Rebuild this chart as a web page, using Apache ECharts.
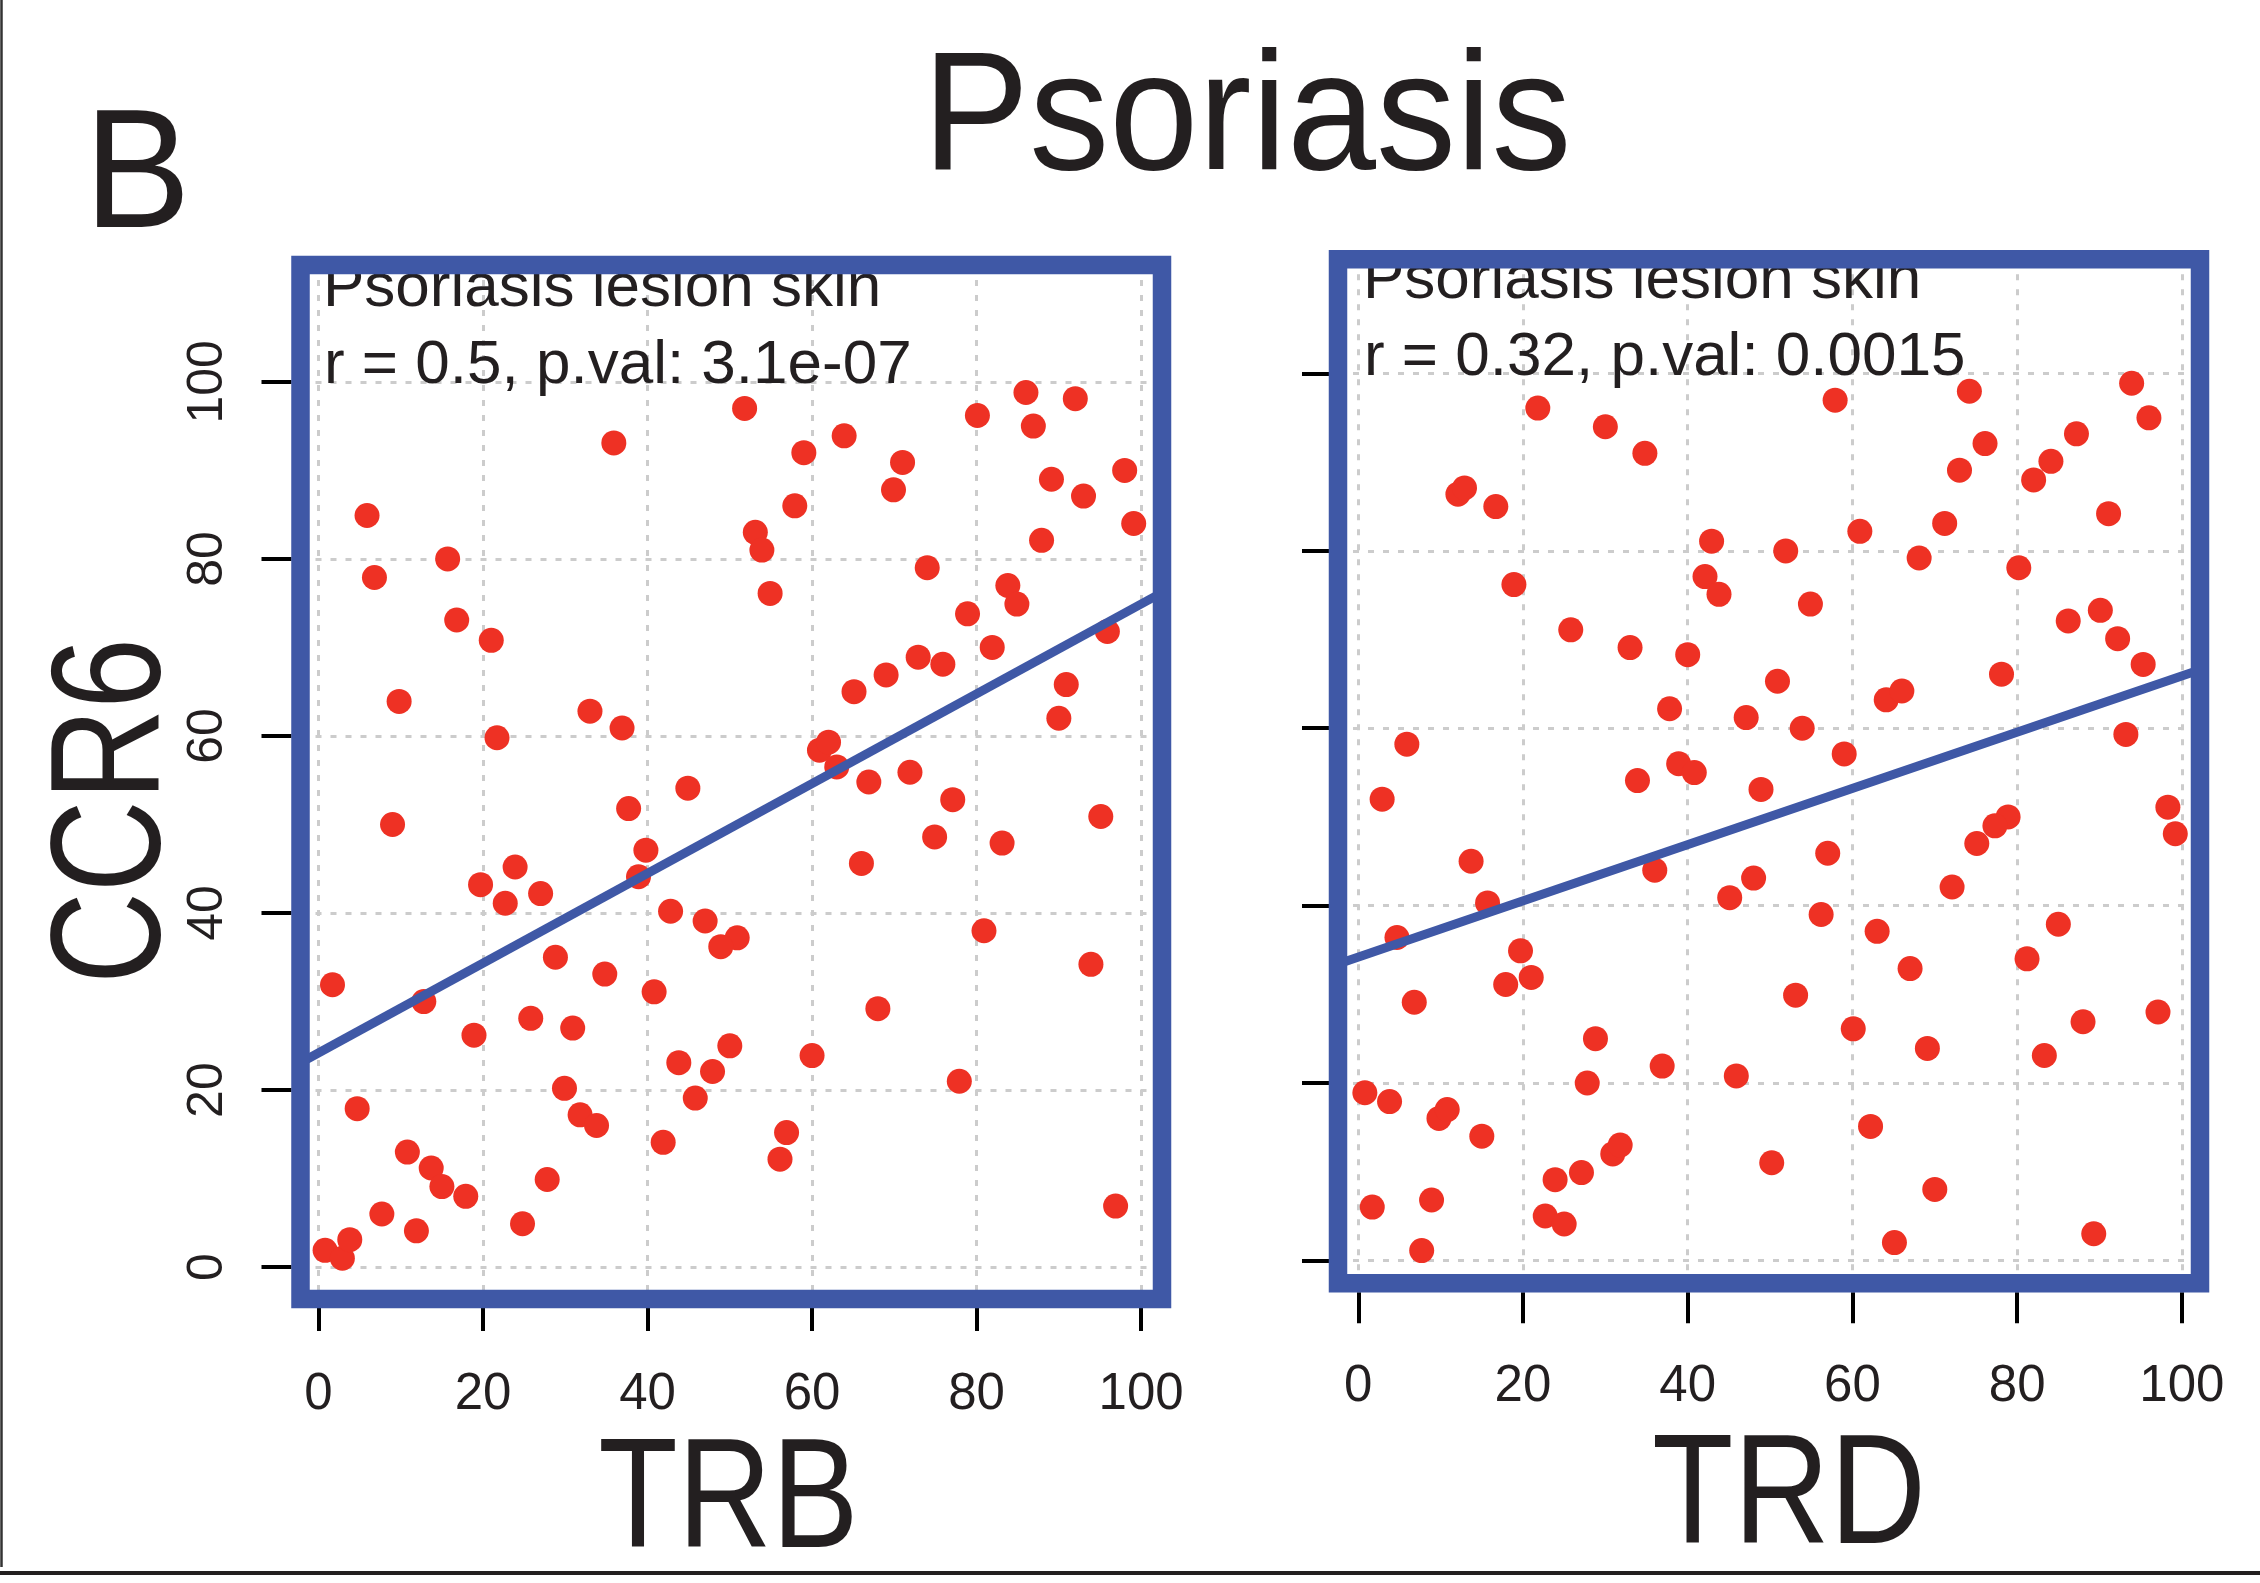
<!DOCTYPE html>
<html>
<head>
<meta charset="utf-8">
<title>Psoriasis - CCR6 vs TRB / TRD</title>
<script src="https://cdn.jsdelivr.net/npm/echarts@6/dist/echarts.min.js"></script>
<style>
  html, body { margin: 0; padding: 0; background: #ffffff; }
  #chart { width: 2260px; height: 1583px; }
</style>
</head>
<body>
<div id="chart"></div>
<script>
// CCR6 expression score plotted against TRB and TRD scores (psoriasis lesion skin)

const tickValues = [0, 20, 40, 60, 80, 100];

// Panel 1: TRB vs CCR6
const trbScore = [
  5.9, 6.8, 15.7, 16.8, 21.0, 9.8, 35.9, 33.0, 36.9, 21.7, 44.9, 37.7, 51.8, 59.0, 63.9, 57.9, 53.1, 53.9, 54.9, 71.0,
  69.9, 80.1, 86.0, 92.0, 86.9, 89.1, 93.0, 98.0, 99.1, 87.9, 74.0, 83.8, 84.9, 78.9, 95.9, 81.9, 72.9, 75.9, 69.0, 65.1,
  90.9, 90.0, 60.9, 62.0, 63.0, 66.9, 71.9, 77.1, 95.1, 74.9, 83.1, 66.0,
  9.0, 39.8, 38.9, 23.9, 19.7, 22.7, 27.0, 42.8, 47.0, 50.9, 48.9, 80.9, 93.9, 1.7, 12.8, 28.8, 34.8, 40.8,
  68.0, 25.8, 30.9, 18.9, 43.8, 50.0, 47.9, 60.0, 77.9, 29.9, 45.8, 4.7, 31.8, 33.8, 56.9, 56.1, 41.9, 10.8,
  13.7, 15.0, 17.9, 27.8, 7.7, 11.9, 24.8, 96.9, 0.8, 2.9, 3.8
];
const trbCCR6 = [
  84.9, 77.9, 80.0, 73.1, 70.8, 63.9, 93.1, 62.8, 60.9, 59.8, 54.1, 51.8, 97.0, 92.0, 93.9, 86.0, 83.0, 81.0, 76.1, 90.9,
  87.8, 96.2, 98.8, 98.1, 95.0, 89.0, 87.1, 90.0, 84.0, 82.1, 79.0, 77.0, 74.9, 73.8, 71.8, 70.0, 68.9, 68.1, 66.9, 65.0,
  65.8, 62.0, 58.4, 59.3, 56.5, 54.8, 55.9, 52.8, 50.9, 48.6, 47.9, 45.6,
  50.0, 47.1, 44.1, 45.2, 43.2, 41.1, 42.2, 40.2, 39.1, 37.2, 36.2, 38.0, 34.2, 31.9, 30.0, 35.0, 33.1, 31.1,
  29.2, 28.1, 27.0, 26.2, 23.1, 25.0, 22.1, 23.9, 21.0, 20.2, 19.1, 17.9, 17.2, 16.0, 15.2, 12.2, 14.1, 13.0,
  11.2, 9.1, 8.0, 9.9, 6.0, 4.1, 4.9, 6.9, 1.9, 1.0, 3.1
];

// Panel 2: TRD vs CCR6
const trdScore = [
  21.8, 30.0, 34.8, 57.9, 74.2, 93.9, 96.0, 76.1, 73.0, 87.2, 84.1, 82.0, 91.1, 71.2, 60.9, 68.1, 80.2, 12.1, 12.9, 16.7,
  42.9, 51.9, 18.9, 42.1, 43.8, 54.9, 25.8, 33.0, 40.0, 86.2, 90.1, 92.2, 95.3, 78.1, 50.9, 64.1, 66.0, 37.8, 47.1, 53.9,
  5.9, 93.2, 59.0, 2.9,
  38.9, 40.8, 33.9, 48.9, 98.3, 99.2, 78.9, 77.3, 75.1, 13.7, 15.7, 4.7, 36.0, 48.0, 45.1, 57.0, 72.1, 56.2, 63.0, 85.0,
  81.2, 67.0, 19.7, 17.9, 21.0, 6.8, 53.1, 60.1, 69.1, 88.0, 97.1, 83.3, 28.8, 36.9, 45.9, 27.8, 0.8, 3.8, 9.8, 10.8,
  15.0, 62.2, 30.9, 31.8, 50.2, 23.9, 27.1, 70.0, 1.7, 8.9, 22.7, 25.0, 7.7, 65.1, 89.3
];
const trdCCR6 = [
  96.1, 94.0, 91.0, 97.0, 98.0, 98.9, 95.0, 92.1, 89.1, 93.2, 90.1, 88.0, 84.2, 83.1, 82.2, 79.2, 78.1, 86.4, 87.1, 85.0,
  81.1, 80.0, 76.2, 77.1, 75.1, 74.0, 71.1, 69.1, 68.3, 72.1, 73.3, 70.1, 67.2, 66.1, 65.3, 63.2, 64.2, 62.2, 61.2, 60.0,
  58.2, 59.3, 57.1, 52.0,
  56.0, 55.0, 54.1, 53.1, 51.1, 48.1, 50.0, 49.0, 47.0, 45.0, 40.3, 36.4, 44.0, 43.1, 40.9, 45.9, 42.1, 39.0, 37.1, 37.9,
  34.0, 32.9, 34.9, 31.1, 31.9, 29.1, 29.9, 26.1, 23.9, 26.9, 28.0, 23.1, 25.0, 21.9, 20.8, 20.0, 18.9, 17.9, 16.0, 17.0,
  14.0, 15.1, 12.0, 13.0, 11.0, 9.1, 9.9, 8.0, 6.0, 6.8, 5.0, 4.1, 1.1, 2.0, 3.0
];

// Least-squares fit lines drawn over each panel
const trbFit = { intercept: 24.2, slope: 0.507 };
const trdFit = { intercept: 34.2, slope: 0.317 };

const figureLetter = 'B';
const figureTitle = 'Psoriasis';
const panelSubtitle = 'Psoriasis lesion skin';
const trbStats = 'r = 0.5, p.val: 3.1e-07';
const trdStats = 'r = 0.32, p.val: 0.0015';
const yName = 'CCR6';
const xNames = ['TRB', 'TRD'];

// ---- styling / layout ----
const FONT = '"Liberation Sans", Arial, Helvetica, sans-serif';
const INK = '#231f20';
const BOX_BLUE = '#3f58a6';
const DOT_RED = '#ee3124';
const GRID_GREY = '#cccccc';

const panels = [
  {
    xs: trbScore, ys: trbCCR6, fit: trbFit,
    rect: { left: 300.5, top: 265, width: 861.5, height: 1034 },
    xRange: [-2.19, 102.54], yRange: [-3.6, 113.2],
    xTickLen: 23, yTickLen: 30, xLabelMargin: 61, yLabels: true
  },
  {
    xs: trdScore, ys: trdCCR6, fit: trdFit,
    rect: { left: 1338, top: 259.3, width: 862, height: 1024 },
    xRange: [-2.46, 102.2], yRange: [-2.59, 112.88],
    xTickLen: 31, yTickLen: 27, xLabelMargin: 69, yLabels: false
  }
];

const zip = (a, b) => a.map((v, i) => [v, b[i]]);

const grids = panels.map(p => ({
  left: p.rect.left, top: p.rect.top, width: p.rect.width, height: p.rect.height,
  containLabel: false,
  outerBoundsMode: 'none',
  show: true,
  backgroundColor: 'transparent',
  borderColor: BOX_BLUE,
  borderWidth: 18.5,
  z: 10
}));

const splitStyle = { show: true, lineStyle: { color: GRID_GREY, width: 3, type: [6, 9] } };

const xAxes = panels.map((p, i) => ({
  type: 'value', gridIndex: i, position: 'bottom', offset: 9,
  min: p.xRange[0], max: p.xRange[1],
  axisLine: { show: false, onZero: false },
  axisTick: { show: true, inside: false, length: p.xTickLen, customValues: tickValues,
              lineStyle: { color: '#000', width: 4 } },
  axisLabel: { show: true, customValues: tickValues, margin: p.xLabelMargin,
               fontSize: 51, fontFamily: FONT, color: INK },
  splitLine: splitStyle
}));

const yAxes = panels.map((p, i) => ({
  type: 'value', gridIndex: i, position: 'left', offset: 9,
  min: p.yRange[0], max: p.yRange[1],
  axisLine: { show: false, onZero: false },
  axisTick: { show: true, inside: false, length: p.yTickLen, customValues: tickValues,
              lineStyle: { color: '#000', width: 4 } },
  axisLabel: { show: p.yLabels, customValues: tickValues, rotate: 90, margin: 58,
               fontSize: 50, fontFamily: FONT, color: INK },
  splitLine: splitStyle
}));

const series = [];
panels.forEach((p, i) => {
  series.push({
    type: 'scatter', xAxisIndex: i, yAxisIndex: i,
    data: zip(p.xs, p.ys),
    symbol: 'circle', symbolSize: 25,
    itemStyle: { color: DOT_RED, opacity: 1 },
    silent: true, z: 2
  });
  const x0 = p.xRange[0], x1 = p.xRange[1];
  series.push({
    type: 'line', xAxisIndex: i, yAxisIndex: i,
    data: [[x0, p.fit.intercept + p.fit.slope * x0], [x1, p.fit.intercept + p.fit.slope * x1]],
    symbol: 'none', clip: true,
    lineStyle: { color: BOX_BLUE, width: 9 },
    silent: true, z: 3
  });
});

function label(text, x, y, size, opts) {
  opts = opts || {};
  return {
    type: 'text', x: x, y: y, z: opts.z != null ? opts.z : 1,
    rotation: opts.rotation || 0,
    scaleX: opts.scaleX || 1,
    scaleY: opts.scaleY || 1,
    silent: true,
    style: {
      text: text,
      font: size + 'px ' + FONT,
      fill: INK,
      align: opts.align || 'left', textAlign: opts.align || 'left',
      verticalAlign: 'middle', textVerticalAlign: 'middle'
    }
  };
}

const graphics = [
  label(figureLetter, 84, 180, 160, { scaleY: 1.06 }),
  label(figureTitle, 1247, 122, 160, { align: 'center', scaleY: 1.06 }),
  label(yName, 116, 811, 155, { align: 'center', rotation: Math.PI / 2, scaleX: 0.82 }),
  label(xNames[0], 728.5, 1504, 155, { align: 'center', scaleX: 0.84 }),
  label(xNames[1], 1789, 1500, 155, { align: 'center', scaleX: 0.86 }),
  label(panelSubtitle, 323, 289, 62),
  label(trbStats, 324, 366, 62),
  label(panelSubtitle, 1363, 281, 62),
  label(trdStats, 1364, 357.5, 62),
  // figure frame
  { type: 'line', silent: true, z: 1,
    shape: { x1: 1.5, y1: 0, x2: 1.5, y2: 1567 },
    style: { stroke: '#333333', lineWidth: 2.5 } },
  { type: 'line', silent: true, z: 1,
    shape: { x1: 0, y1: 1573, x2: 2260, y2: 1573 },
    style: { stroke: INK, lineWidth: 4 } }
];

const chart = echarts.init(document.getElementById('chart'), null, { renderer: 'canvas' });
chart.setOption({
  animation: false,
  backgroundColor: '#ffffff',
  grid: grids,
  xAxis: xAxes,
  yAxis: yAxes,
  series: series,
  graphic: { elements: graphics }
});
</script>
</body>
</html>
